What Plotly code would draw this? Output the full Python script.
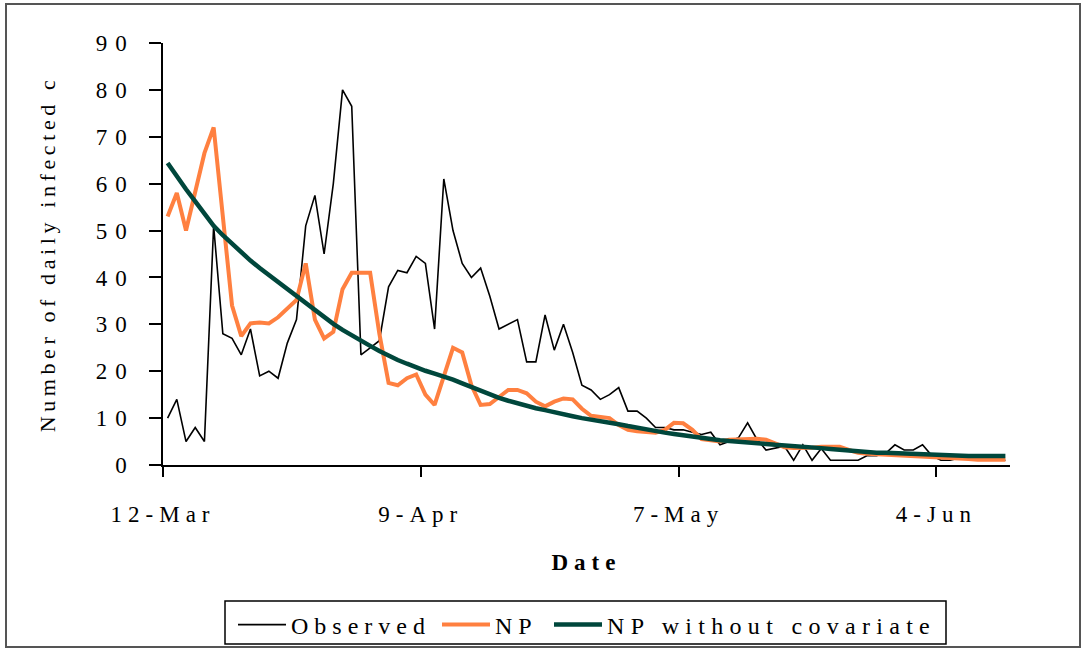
import pandas as pd
import plotly.graph_objects as go

# Daily series, one value per day starting 12 March
start_date = "2003-03-12"

observed = [
    10, 14, 5, 8, 5, 51, 28, 27, 23.5, 29,
    19, 20, 18.5, 26, 31, 51, 57.5, 45, 60, 80,
    76.5, 23.5, 25, 26.5, 38, 41.5, 41, 44.5, 43, 29,
    61, 50, 43, 40, 42, 36, 29, 30, 31, 22,
    22, 32, 24.5, 30, 24, 17, 16, 14, 15, 16.5,
    11.5, 11.5, 10, 8, 8, 7.5, 7.5, 7, 6.5, 7,
    4.3, 5, 5.8, 9, 5.5, 3.2, 3.6, 4, 1, 4.3,
    1, 3.5, 1, 1, 1, 1, 2, 2, 2.5, 4.3,
    3.2, 3.2, 4.3, 2, 1, 1, 1.5, 1.3, 1, 1,
    1, 1,
]

np_fit = [
    53, 58, 50, 58.5, 66.5, 72, 52, 34, 27.5, 30.2,
    30.4, 30.2, 31.5, 33.5, 35.2, 43, 31, 27, 28.4, 37.5,
    41, 41, 41, 28, 17.5, 17, 18.5, 19.3, 15, 12.8,
    18.8, 25, 24, 17, 12.8, 13, 14.5, 16, 16, 15.3,
    13.5, 12.5, 13.5, 14.2, 14, 12, 10.5, 10.2, 10, 8.5,
    7.5, 7.2, 7.1, 6.9, 7.5, 9, 8.9, 7.5, 5.5, 5.3,
    5.0, 5.4, 5.5, 5.6, 5.6, 5.4, 4.6, 3.8, 3.6, 3.6,
    3.7, 3.9, 3.9, 3.9, 3.2, 2.6, 2.4, 2.3, 2.3, 2.3,
    2.2, 2.0, 1.8, 1.8, 1.6, 1.5, 1.4, 1.3, 1.1, 1.1,
    1.1, 1.1,
]

np_no_cov = [
    64.4, 61.5, 58.8, 56.2, 53.5, 51.0, 49.0, 47.1, 45.3, 43.6,
    42.0, 40.5, 39.0, 37.5, 36.0, 34.4, 32.9, 31.5, 30.1, 28.8,
    27.6, 26.5, 25.4, 24.3, 23.3, 22.4, 21.6, 20.8, 20.1, 19.5,
    18.9, 18.2, 17.4, 16.6, 15.8, 15.0, 14.3, 13.7, 13.1, 12.6,
    12.1, 11.7, 11.2, 10.8, 10.4, 10.0, 9.7, 9.5, 9.1, 8.7,
    8.3, 7.9, 7.5, 7.2, 6.9, 6.6, 6.3, 6.0, 5.7, 5.5,
    5.3, 5.1, 5.0, 4.8, 4.6, 4.5, 4.3, 4.2, 4.0, 3.9,
    3.8, 3.6, 3.4, 3.2, 3.0, 2.8, 2.7, 2.6, 2.6, 2.5,
    2.4, 2.4, 2.3, 2.2, 2.0, 1.9, 1.9, 1.9, 1.9, 1.9,
    1.9, 1.9,
]

series_names = ["Observed", "NP", "NP without covariate"]
x_tick_dates = ["2003-03-12", "2003-04-09", "2003-05-07", "2003-06-04"]
x_tick_labels = ["12-Mar", "9-Apr", "7-May", "4-Jun"]
y_tick_values = [0, 10, 20, 30, 40, 50, 60, 70, 80, 90]
x_title = "Date"
y_title = "Number of daily infected c"

# points sit in the middle of each day, between the date ticks
days = pd.date_range(start_date, periods=len(observed), freq="D") + pd.Timedelta(hours=12)
x_end = pd.Timestamp(start_date) + pd.Timedelta(days=len(observed))

FONT = "Liberation Serif, Times New Roman, serif"
W, H = 1086, 651
ML, MR, MT, MB = 163, 76, 43, 186
PW, PH = W - ML - MR, H - MT - MB


def px_x(px):
    return (px - ML) / PW


def px_y(py):
    return (H - MB - py) / PH


def spaced(text, px):
    """Wrap a label so it is drawn with extra letter spacing."""
    return f'<span style="letter-spacing:{px}px">{text}</span>'


fig = go.Figure()
fig.add_trace(go.Scatter(x=days, y=observed, mode="lines", name=spaced(series_names[0], 6),
                         line=dict(color="#000000", width=1.6), legend="legend",
                         showlegend=True))
fig.add_trace(go.Scatter(x=days, y=np_fit, mode="lines", name=spaced(series_names[1], 6),
                         line=dict(color="#FF8040", width=4), legend="legend2",
                         showlegend=True))
fig.add_trace(go.Scatter(x=days, y=np_no_cov, mode="lines", name=spaced(series_names[2], 6.3),
                         line=dict(color="#00473C", width=4.5), legend="legend3",
                         showlegend=True))

common_x = dict(type="date", range=[start_date, x_end], tickvals=x_tick_dates,
                showgrid=False, zeroline=False, tickcolor="black", tickwidth=1.5)
common_y = dict(range=[0, 90], tickvals=y_tick_values, showgrid=False, zeroline=False,
                tickcolor="black", tickwidth=1.5)

legend_common = dict(orientation="h", xanchor="left", yanchor="middle",
                     xref="container", yref="container",
                     bgcolor="rgba(0,0,0,0)", borderwidth=0, itemwidth=48,
                     font=dict(family=FONT, size=24, color="black"))
legend_y = (H - 625) / H

fig.update_layout(
    width=W, height=H,
    margin=dict(l=ML, r=MR, t=MT, b=MB, autoexpand=False),
    paper_bgcolor="white", plot_bgcolor="white",
    showlegend=True,
    font=dict(family=FONT, size=23, color="black"),
    xaxis=dict(**common_x, ticks="outside", ticklen=10,
               ticktext=[spaced(t, 6) for t in x_tick_labels],
               showline=True, linecolor="black", linewidth=1.5,
               ticklabelstandoff=18, automargin=False,
               title=dict(text=spaced(x_title, 6), standoff=28,
                          font=dict(family=FONT, size=23, weight="bold"))),
    yaxis=dict(**common_y, ticks="outside", ticklen=12,
               ticktext=[spaced(v, 8) for v in y_tick_values],
               showline=True, linecolor="black", linewidth=1.5,
               ticklabelstandoff=10, automargin=False,
               title=dict(text=spaced(y_title, 4.6), standoff=34,
                          font=dict(family=FONT, size=22))),
    xaxis2=dict(**common_x, overlaying="x", anchor="y", ticks="inside", ticklen=9,
                showticklabels=False, showline=False),
    yaxis2=dict(**common_y, overlaying="y", anchor="x", side="left", ticks="inside",
                ticklen=12, showticklabels=False, showline=False),
    legend=dict(**legend_common, x=233 / W, y=legend_y),
    legend2=dict(**legend_common, x=437 / W, y=legend_y),
    legend3=dict(**legend_common, x=549 / W, y=legend_y),
    shapes=[
        # outer frame of the chart
        dict(type="rect", xref="paper", yref="paper",
             x0=px_x(6), x1=px_x(1080), y0=px_y(647), y1=px_y(4),
             line=dict(color="#555555", width=2), fillcolor="rgba(0,0,0,0)", layer="below"),
        # legend box
        dict(type="rect", xref="paper", yref="paper",
             x0=px_x(225), x1=px_x(946), y0=px_y(644), y1=px_y(601),
             line=dict(color="black", width=1.5), fillcolor="rgba(0,0,0,0)"),
    ],
)

fig.write_html("out.html")
